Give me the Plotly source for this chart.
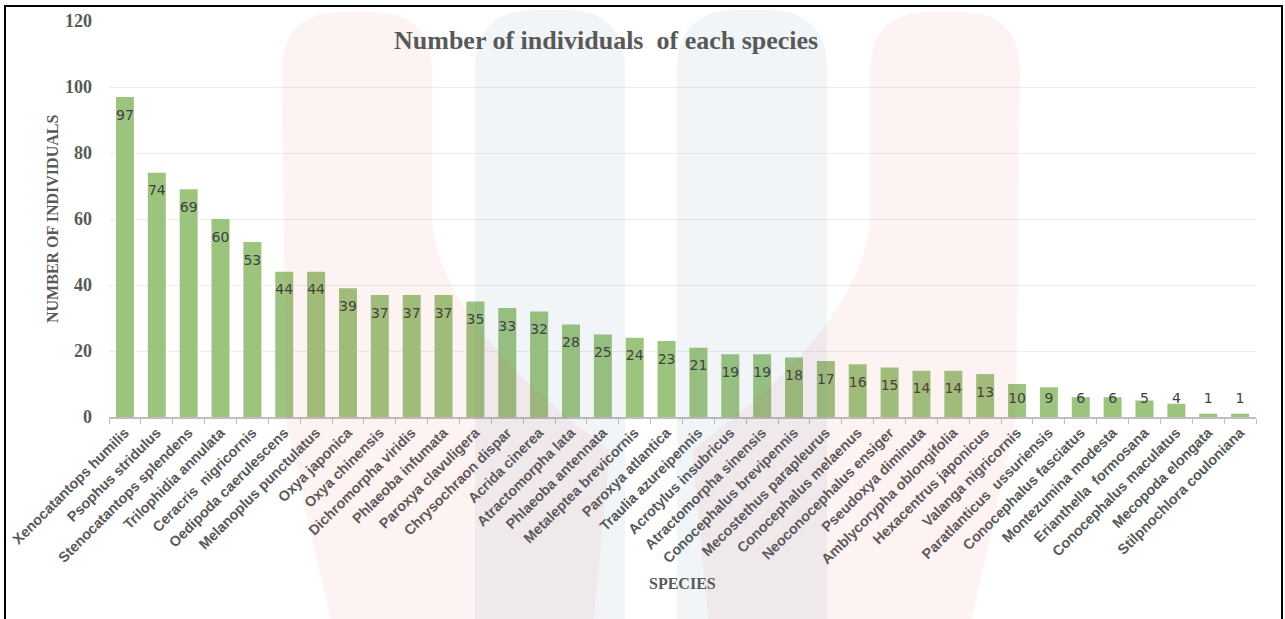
import plotly.graph_objects as go

# Species recorded and the number of individuals counted for each
species = [
    "Xenocatantops humilis", "Psophus stridulus", "Stenocatantops splendens",
    "Trilophidia annulata", "Ceracris  nigricornis", "Oedipoda caerulescens",
    "Melanoplus punctulatus", "Oxya japonica", "Oxya chinensis",
    "Dichromorpha viridis", "Phlaeoba infumata", "Paroxya clavuligera",
    "Chrysochraon dispar", "Acrida cinerea", "Atractomorpha lata",
    "Phlaeoba antennata", "Metaleptea brevicornis", "Paroxya atlantica",
    "Traulia azureipennis", "Acrotylus insubricus", "Atractomorpha sinensis",
    "Conocephalus brevipennis", "Mecostethus parapleurus", "Conocephalus melaenus",
    "Neoconocephalus ensiger", "Pseudoxya diminuta", "Amblycorypha oblongifolia",
    "Hexacentrus japonicus", "Valanga nigricornis", "Paratlanticus  ussuriensis",
    "Conocephalus fasciatus", "Montezumina modesta", "Erianthella  formosana",
    "Conocephalus maculatus", "Mecopoda elongata", "Stilpnochlora couloniana",
]
counts = [97, 74, 69, 60, 53, 44, 44, 39, 37, 37, 37, 35, 33, 32, 28, 25, 24, 23,
          21, 19, 19, 18, 17, 16, 15, 14, 14, 13, 10, 9, 6, 6, 5, 4, 1, 1]
y_ticks = [0, 20, 40, 60, 80, 100, 120]

W, H = 1285, 619
L, R, T, B = 109, 29, 21, 202
PW, PH = W - L - R, H - T - B


def px(x):
    return (x - L) / PW


def py(y):
    return (H - B - y) / PH


def path(cmds):
    out = []
    for c in cmds:
        if isinstance(c, str):
            out.append(c)
        else:
            out.append(f"{px(c[0]):.4f},{py(c[1]):.4f}")
    return " ".join(out)


def pillar(x0, x1, top, r=60):
    return path(["M", (x0, 660), "L", (x0, top + r), "Q", (x0, top), (x0 + r, top),
                 "L", (x1 - r, top), "Q", (x1, top), (x1, top + r), "L", (x1, 660), "Z"])


def red_band(m=False):
    f = (lambda x: 1302 - x) if m else (lambda x: x)
    pts = ["M", (f(310), 530), "L", (f(286), 420), "L", (f(282), 72),
           "Q", (f(282), 12), (f(342), 12), "L", (f(372), 12),
           "Q", (f(432), 12), (f(432), 72), "L", (f(432), 225),
           "Q", (f(445), 330), (f(610), 450), "L", (f(590), 660),
           "L", (f(340), 660), "Z"]
    return path(pts)


# labels sit just inside the bar top, kept clear of the baseline
label_y = [max(v - 5.8, 5.4) for v in counts]

fig = go.Figure()
fig.add_trace(go.Bar(
    x=species, y=counts,
    marker=dict(color="rgb(156,196,126)", line=dict(width=0)),
    hoverinfo="x+y",
))
fig.add_trace(go.Scatter(
    x=species, y=label_y, mode="text",
    text=[str(v) for v in counts], textposition="middle center",
    textfont=dict(family="DejaVu Sans", size=14, color="#404040"),
    hoverinfo="skip",
))

shapes = []
# faint logo in the background
for x0, x1 in [(475, 625), (677, 827)]:
    shapes.append(dict(type="path", xref="paper", yref="paper", path=pillar(x0, x1, 10),
                       fillcolor="rgb(60,110,160)", opacity=0.07, line=dict(width=0), layer="above"))
for m in (False, True):
    shapes.append(dict(type="path", xref="paper", yref="paper", path=red_band(m),
                       fillcolor="rgb(235,80,80)", opacity=0.065, line=dict(width=0), layer="above"))
# frame around the chart
shapes.append(dict(type="rect", xref="paper", yref="paper",
                   x0=px(5), x1=px(1282), y0=py(680), y1=py(6),
                   line=dict(color="black", width=2), fillcolor="rgba(0,0,0,0)", layer="above"))

fig.update_layout(
    width=W, height=H,
    margin=dict(l=L, r=R, t=T, b=B, autoexpand=False),
    paper_bgcolor="white", plot_bgcolor="white",
    showlegend=False, bargap=0.435,
    shapes=shapes,
    annotations=[
        dict(text="<b>Number of individuals  of each species</b>", xref="paper", yref="paper",
             x=px(606), y=py(40), showarrow=False, xanchor="center", yanchor="middle",
             font=dict(family="Liberation Serif", size=26, color="#595959")),
        dict(text="<b>NUMBER OF INDIVIDUALS</b>", xref="paper", yref="paper",
             x=px(52), y=py(219), showarrow=False, textangle=-90,
             xanchor="center", yanchor="middle",
             font=dict(family="Liberation Serif", size=16, color="#595959")),
        dict(text="<b>SPECIES</b>", xref="paper", yref="paper",
             x=px(682), y=py(583), showarrow=False, xanchor="center", yanchor="middle",
             font=dict(family="Liberation Serif", size=16, color="#595959")),
    ],
    xaxis=dict(
        type="category", range=[-0.5, len(species) - 0.5], automargin=False,
        tickangle=-45, showgrid=False,
        showline=True, linecolor="#BFBFBF", linewidth=1.5,
        ticks="outside", tickson="boundaries", ticklen=5, tickcolor="#BFBFBF",
        tickfont=dict(family="Liberation Sans", size=14.4, color="#595959", weight="bold"),
    ),
    yaxis=dict(
        range=[0, 120], tickvals=y_ticks, showline=False, zeroline=False, automargin=False,
        showgrid=True, gridcolor="#EDEDED", gridwidth=1,
        ticklabelstandoff=16,
        tickfont=dict(family="Liberation Serif", size=18, color="#595959", weight="bold"),
    ),
)

fig.write_html("out.html")
